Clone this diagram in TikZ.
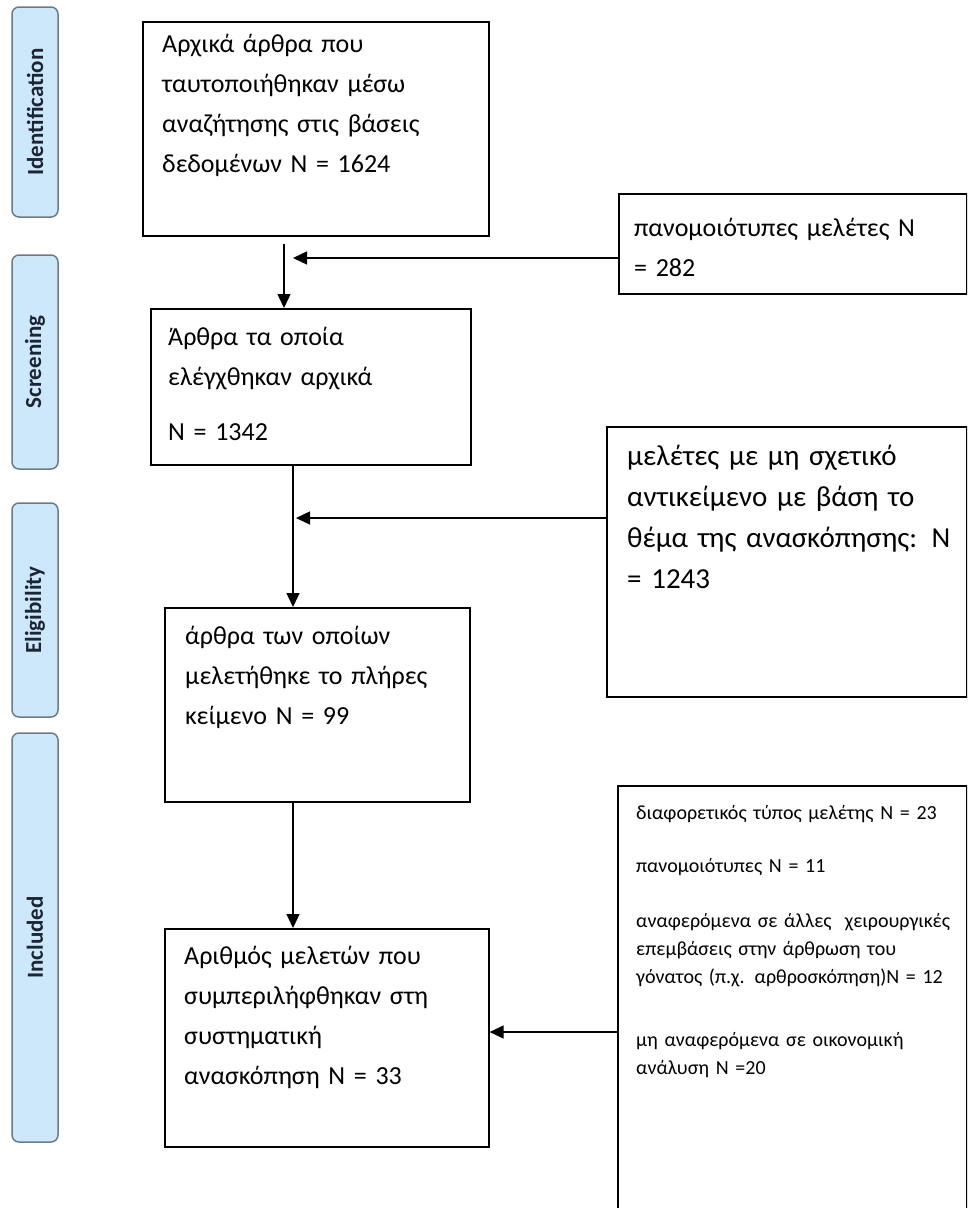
\documentclass[tikz,border=0pt]{standalone}
\usepackage{fontspec}
\setmainfont{Carlito}
\usetikzlibrary{arrows.meta}
\definecolor{barfill}{HTML}{CDE8FB}
\definecolor{barline}{HTML}{6F7A85}
\definecolor{bartext}{HTML}{1C2535}
\tikzset{
  boxst/.style={draw, line width=1.6pt, inner sep=0pt, anchor=north west},
  txt/.style={anchor=north west, inner sep=0pt, align=left, text width=#1},
  arr/.style={line width=1.4pt, -{Triangle[length=14pt,width=13pt]}},
  bar/.style={draw=barline, fill=barfill, line width=1.5pt, rounded corners=7pt,
    inner sep=0pt, rotate=90, minimum height=46pt, text=bartext,
    font=\fontsize{23}{26}\selectfont\bfseries},
  mainfont/.style={font=\fontsize{26}{40}\selectfont},
}
\begin{document}
\begin{tikzpicture}[x=1pt,y=-1pt]
\useasboundingbox (0,0) rectangle (967,1208);
\begin{scope}
\clip (0,0) rectangle (967,1208);
% side bars
\node[bar, minimum width=210pt] (idb) at (35,112) {Identification};
\node[bar, minimum width=214pt] (scb) at (35,362) {Screening};
\node[bar, minimum width=214pt] (elb) at (35,610) {Eligibility};
\node[bar, minimum width=409pt] (inb) at (35,937.5) {Included};

% boxes
\node[boxst, minimum width=346pt, minimum height=214pt] (b1) at (142,21) {};
\node[boxst, minimum width=348pt, minimum height=100pt] (p1) at (618,193) {};
\node[boxst, minimum width=320pt, minimum height=156pt] (b2) at (150,308) {};
\node[boxst, minimum width=360pt, minimum height=270pt] (big) at (606,426) {};
\node[boxst, minimum width=305pt, minimum height=194pt] (b3) at (164,607) {};
\node[boxst, minimum width=349pt, minimum height=430pt] (sm) at (617,785) {};
\node[boxst, minimum width=324pt, minimum height=218pt] (b4) at (164,928) {};

% texts
\node[txt=320pt, mainfont] (t1) at (162,24) {\strut Αρχικά άρθρα που\\ταυτοποιήθηκαν μέσω\\αναζήτησης στις βάσεις\\δεδομένων N = 1624};
\node[txt=330pt, mainfont] (tp) at (634,208) {\strut πανομοιότυπες μελέτες N\\= 282};
\node[txt=300pt, mainfont] (t2) at (168,317) {\strut Άρθρα τα οποία\\ελέγχθηκαν αρχικά\\[15pt]N = 1342};
\node[txt=340pt, font=\fontsize{29}{41}\selectfont] (tb) at (627,437) {\strut μελέτες με μη σχετικό\\αντικείμενο με βάση το\\θέμα της ανασκόπησης: N\\= 1243};
\node[txt=290pt, mainfont] (t3) at (185,616) {\strut άρθρα των οποίων\\μελετήθηκε το πλήρες\\κείμενο N = 99};
\node[txt=330pt, font=\fontsize{20}{28}\selectfont] (ts) at (636,799.4) {\strut διαφορετικός τύπος μελέτης N = 23\\[25pt]πανομοιότυπες N = 11\\[27pt]αναφερόμενα σε άλλες\ \ χειρουργικές\\επεμβάσεις στην άρθρωση του\\γόνατος (π.χ. αρθροσκόπηση)N = 12\\[35pt]μη αναφερόμενα σε οικονομική\\ανάλυση N =20};
\node[txt=300pt, mainfont] (t4) at (184,936) {\strut Αριθμός μελετών που\\συμπεριλήφθηκαν στη\\συστηματική\\ανασκόπηση N = 33};

% connectors
\coordinate (a1s) at (284,244);
\draw[arr] (a1s) -- (a1s |- b2.north);
\coordinate (tip1) at (293,258);
\draw[arr] (tip1 -| p1.west) -- (tip1);
\coordinate (cx) at (293,0);
\draw[arr] (b2.south -| cx) -- (b3.north -| cx);
\coordinate (tip2) at (296,518);
\draw[arr] (tip2 -| big.west) -- (tip2);
\draw[arr] (b3.south -| cx) -- (b4.north -| cx);
\coordinate (a4) at (0,1032);
\draw[arr] (a4 -| sm.west) -- (a4 -| b4.east);
\end{scope}
\end{tikzpicture}
\end{document}
